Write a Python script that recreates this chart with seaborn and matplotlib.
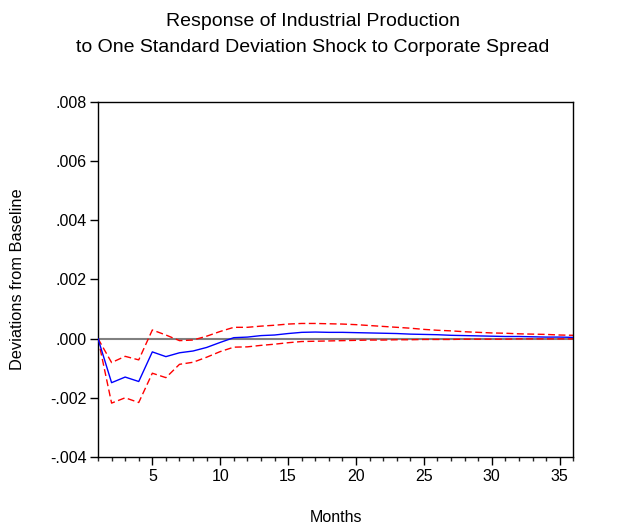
import numpy as np
import pandas as pd
import matplotlib
matplotlib.use("Agg")
import matplotlib.pyplot as plt
from matplotlib.ticker import MultipleLocator, FuncFormatter
import seaborn as sns

months = list(range(1, 37))
response = [0.0, -0.00149, -0.00130, -0.00145, -0.00045, -0.00061, -0.00048, -0.00042,
            -0.00030, -0.00013, 0.00003, 0.00005, 0.00010, 0.00012, 0.00017, 0.00021,
            0.00022, 0.00021, 0.00021, 0.00020, 0.00019, 0.00018, 0.00017, 0.00015,
            0.00014, 0.00013, 0.00011, 0.00010, 0.00009, 0.00008, 0.00007, 0.00007,
            0.00006, 0.00005, 0.00005, 0.00004]
upper = [0.0, -0.00081, -0.00060, -0.00072, 0.00029, 0.00012, -0.00007, -0.00005,
         0.00008, 0.00024, 0.00038, 0.00038, 0.00042, 0.00045, 0.00049, 0.00051,
         0.00051, 0.00050, 0.00049, 0.00047, 0.00044, 0.00041, 0.00038, 0.00035,
         0.00031, 0.00028, 0.00026, 0.00023, 0.00021, 0.00019, 0.00018, 0.00016,
         0.00015, 0.00014, 0.00012, 0.00011]
lower = [0.0, -0.00218, -0.00200, -0.00216, -0.00117, -0.00132, -0.00087, -0.00080,
         -0.00063, -0.00044, -0.00029, -0.00028, -0.00023, -0.00019, -0.00014, -0.00010,
         -0.00009, -0.00008, -0.00007, -0.00006, -0.00005, -0.00005, -0.00004, -0.00004,
         -0.00003, -0.00003, -0.00003, -0.00002, -0.00002, -0.00002, -0.00002, -0.00001,
         -0.00001, -0.00001, -0.00001, -0.00001]

title_lines = ["Response of Industrial Production",
               "to One Standard Deviation Shock to Corporate Spread"]
xlabel = "Months"
ylabel = "Deviations from Baseline"

df = pd.DataFrame({"month": months, "response": response, "upper": upper, "lower": lower})

sns.set_style("ticks")
plt.rcParams["font.family"] = ["Liberation Sans", "DejaVu Sans"]
plt.rcParams["text.color"] = "black"

W, H = 625, 527
fig = plt.figure(figsize=(W / 100, H / 100), dpi=100)
ax = fig.add_axes([98 / W, 1 - 457 / H, (573.3 - 98) / W, (457 - 101.7) / H])

ax.axhline(0, color="#808080", lw=1.5, zorder=1)
sns.lineplot(data=df, x="month", y="upper", ax=ax, color="#ff0000", lw=1.0,
             linestyle=(0, (5, 2.5)), zorder=2)
sns.lineplot(data=df, x="month", y="lower", ax=ax, color="#ff0000", lw=1.0,
             linestyle=(0, (5, 2.5)), zorder=2)
sns.lineplot(data=df, x="month", y="response", ax=ax, color="#0000ff", lw=1.0, zorder=3)

ax.set_xlim(1, 36)
ax.set_ylim(-0.004, 0.008)
ax.xaxis.set_major_locator(MultipleLocator(5))
ax.xaxis.set_minor_locator(MultipleLocator(1))
ax.yaxis.set_major_locator(MultipleLocator(0.002))

def yfmt(v, pos):
    s = f"{v:.3f}"
    if s.startswith("-0"):
        s = "-" + s[2:]
    elif s.startswith("0"):
        s = s[1:]
    if s == "-.000":
        s = ".000"
    return s

ax.yaxis.set_major_formatter(FuncFormatter(yfmt))
ax.tick_params(axis="y", which="major", direction="out", length=6, width=1,
               labelsize=11.5, colors="black", pad=2)
ax.tick_params(axis="x", which="major", direction="out", length=5.5, width=1,
               labelsize=11.5, colors="black", pad=3)
ax.tick_params(axis="x", which="minor", direction="out", length=3, width=1)
ax.tick_params(top=False, right=False, which="both")

for sp in ax.spines.values():
    sp.set_visible(True)
    sp.set_color("black")
    sp.set_linewidth(1.0)

ax.set_xlabel("")
ax.set_ylabel("")
fig.text(335.5 / W, 1 - 517 / H, xlabel, fontsize=11.5, ha="center", va="center")
fig.text(18 / W, 1 - 279 / H, ylabel, fontsize=11.8, ha="center", va="center",
         rotation=90)
fig.text(0.5, 1 - 21 / H, title_lines[0], fontsize=14, ha="center", va="center")
fig.text(0.5, 1 - 48 / H, title_lines[1], fontsize=14, ha="center", va="center")

fig.savefig("out.png", dpi=100)
